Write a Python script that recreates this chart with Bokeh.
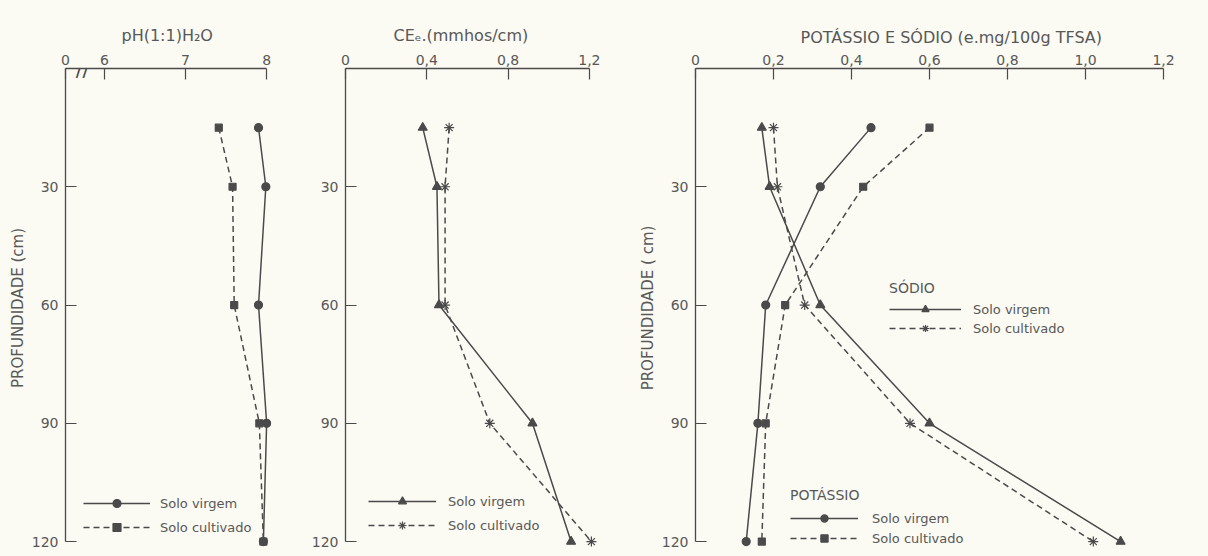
from bokeh.plotting import figure
from bokeh.layouts import row
from bokeh.models import Range1d, Legend, LegendItem, Label, FixedTicker
from bokeh.embed import file_html
from bokeh.resources import INLINE

# ---------------- data ----------------
depth = [15, 30, 60, 90, 120]

ph_virgem = [7.90, 7.99, 7.90, 8.00, 7.96]
ph_cultivado = [7.41, 7.58, 7.60, 7.91, 7.96]

ce_virgem = [0.38, 0.45, 0.46, 0.92, 1.11]
ce_cultivado = [0.51, 0.49, 0.49, 0.71, 1.21]

na_virgem = [0.17, 0.19, 0.32, 0.60, 1.09]
na_cultivado = [0.20, 0.21, 0.28, 0.55, 1.02]

k_virgem = [0.45, 0.32, 0.18, 0.16, 0.13]
k_cultivado = [0.60, 0.43, 0.23, 0.18, 0.17]

ph_origin = 5.52  # value at the broken-axis origin labelled "0"
ph_ticks = [ph_origin, 6, 7, 8]
ph_tick_labels = ["0", "6", "7", "8"]
ce_ticks = [0, 0.4, 0.8, 1.2]
ce_tick_labels = ["0", "0,4", "0,8", "1,2"]
kna_ticks = [0, 0.2, 0.4, 0.6, 0.8, 1.0, 1.2]
kna_tick_labels = ["0", "0,2", "0,4", "0,6", "0,8", "1,0", "1,2"]
depth_ticks = [30, 60, 90, 120]
depth_tick_labels = ["30", "60", "90", "120"]

titles = ["pH(1:1)H\u2082O", "CE\u2091.(mmhos/cm)", "POTÁSSIO E SÓDIO (e.mg/100g TFSA)"]
y_titles = ["PROFUNDIDADE (cm)", "", "PROFUNDIDADE ( cm)"]
series_labels = ["Solo virgem", "Solo cultivado"]

# ---------------- styling ----------------
BG = "#fbfaf3"
INK = "#4a4a4a"
TXT = "#585858"
FONT = "DejaVu Sans"
FRAME_H = 479
TOP = 68
BOTTOM = 7
DEPTH_MAX = 121.5


def base(x_range, x_bounds, x_ticks, x_labels, frame_w,
         left, right, title, title_offset, title_standoff, y_title):
    p = figure(frame_width=frame_w, frame_height=FRAME_H,
               x_range=x_range, y_range=Range1d(DEPTH_MAX, 0),
               x_axis_location="above",
               min_border_left=left, min_border_right=right,
               min_border_top=TOP, min_border_bottom=BOTTOM,
               toolbar_location=None, output_backend="svg",
               background_fill_color=BG, border_fill_color=BG,
               outline_line_color=None)
    p.grid.visible = False
    xa = p.xaxis[0]
    ya = p.yaxis[0]
    xa.bounds = x_bounds
    ya.bounds = (0, 120)
    xa.ticker = FixedTicker(ticks=x_ticks)
    xa.major_label_overrides = dict(zip(x_ticks, x_labels))
    ya.ticker = FixedTicker(ticks=depth_ticks)
    ya.major_label_overrides = dict(zip(depth_ticks, depth_tick_labels))
    for ax in (xa, ya):
        ax.axis_line_color = INK
        ax.axis_line_width = 1.3
        ax.major_tick_line_color = INK
        ax.major_tick_line_width = 1.2
        ax.major_tick_in = 11
        ax.major_tick_out = 0
        ax.minor_tick_line_color = None
        ax.major_label_text_font = FONT
        ax.major_label_text_font_size = "14px"
        ax.major_label_text_color = TXT
    xa.major_label_standoff = 4
    ya.major_label_standoff = 7
    if y_title:
        ya.axis_label = y_title
        ya.axis_label_text_font = FONT
        ya.axis_label_text_font_size = "15px"
        ya.axis_label_text_font_style = "normal"
        ya.axis_label_text_color = TXT
        ya.axis_label_standoff = 2
    p.title.text = title
    p.title.align = "left"
    p.title.offset = title_offset
    p.title.text_font = FONT
    p.title.text_font_size = "16px"
    p.title.text_font_style = "normal"
    p.title.text_color = TXT
    p.title.standoff = title_standoff
    return p


def add_series(p, xs, marker, size, dashed):
    dash = "6 4" if dashed else "solid"
    lr = p.line(xs, depth, line_color=INK, line_width=1.5, line_dash=dash)
    sr = p.scatter(xs, depth, marker=marker, size=size, fill_color=INK,
                   line_color=INK, line_width=1.2)
    return [lr, sr]


def make_legend(items, loc, glyph_w, glyph_h, spacing, standoff, title=None,
                title_standoff=5):
    lg = Legend(items=items, location=loc, glyph_width=glyph_w,
                glyph_height=glyph_h, label_height=glyph_h, spacing=spacing,
                padding=0, margin=0, label_standoff=standoff,
                border_line_color=None, background_fill_alpha=0,
                label_text_font=FONT, label_text_font_size="13px",
                label_text_color=TXT)
    if title:
        lg.title = title
        lg.title_text_font = FONT
        lg.title_text_font_size = "14px"
        lg.title_text_font_style = "normal"
        lg.title_text_color = TXT
        lg.title_standoff = title_standoff
    return lg


# ---------------- panel 1 : pH ----------------
p1 = base(Range1d(ph_origin, 8.06), (ph_origin, 8),
          ph_ticks, ph_tick_labels, 206, 65, 19, titles[0], 56, 14, y_titles[0])
r1a = add_series(p1, ph_virgem, "circle", 8, False)
r1b = add_series(p1, ph_cultivado, "square", 7, True)
p1.add_layout(make_legend([LegendItem(label=series_labels[0], renderers=r1a),
                           LegendItem(label=series_labels[1], renderers=r1b)],
                          (18, 10), 67, 20, 4, 10))
p1.add_layout(Label(x=5.73, y=0, text="//", text_align="center",
                    text_baseline="middle", text_font=FONT,
                    text_font_size="20px", text_color=INK))

# ---------------- panel 2 : CEe ----------------
p2 = base(Range1d(0, 1.24), (0, 1.2),
          ce_ticks, ce_tick_labels, 252, 55, 33, titles[1], 48, 14, y_titles[1])
r2a = add_series(p2, ce_virgem, "triangle", 9, False)
r2b = add_series(p2, ce_cultivado, "asterisk", 10, True)
p2.add_layout(make_legend([LegendItem(label=series_labels[0], renderers=r2a),
                           LegendItem(label=series_labels[1], renderers=r2b)],
                          (23, 12), 68, 20, 4, 12))

# ---------------- panel 3 : K and Na ----------------
p3 = base(Range1d(0, 1.241), (0, 1.2),
          kna_ticks, kna_tick_labels, 484, 65, 18, titles[2], 105, 9, y_titles[2])
r3na_a = add_series(p3, na_virgem, "triangle", 9, False)
r3na_b = add_series(p3, na_cultivado, "asterisk", 10, True)
r3k_a = add_series(p3, k_virgem, "circle", 8, False)
r3k_b = add_series(p3, k_cultivado, "square", 7, True)
p3.add_layout(make_legend([LegendItem(label=series_labels[0], renderers=r3na_a),
                           LegendItem(label=series_labels[1], renderers=r3na_b)],
                          (194, 210), 72, 18, 1, 12, title="SÓDIO",
                          title_standoff=4))
p3.add_layout(make_legend([LegendItem(label=series_labels[0], renderers=r3k_a),
                           LegendItem(label=series_labels[1], renderers=r3k_b)],
                          (95, 0), 68, 18, 2, 14, title="POTÁSSIO",
                          title_standoff=6))

layout = row(p1, p2, p3, spacing=0)

html = file_html(layout, INLINE)
html = html.replace("</head>",
                    "<style>html, body { background: %s; }</style></head>" % BG, 1)
open("out.html", "w").write(html)
